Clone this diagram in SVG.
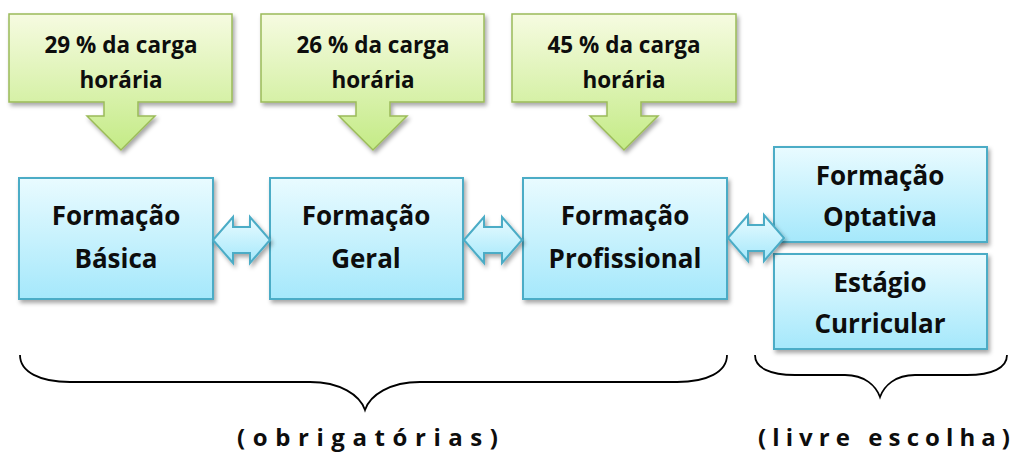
<svg xmlns="http://www.w3.org/2000/svg" width="1016" height="452" viewBox="0 0 1016 452">
<defs>
<linearGradient id="gBlue" x1="0" y1="0" x2="0" y2="1">
<stop offset="0" stop-color="#e9fbff"/>
<stop offset="1" stop-color="#a5e8fb"/>
</linearGradient>
<linearGradient id="gGreen" x1="0" y1="0" x2="0" y2="1">
<stop offset="0" stop-color="#f6fbe1"/>
<stop offset="1" stop-color="#c4eb86"/>
</linearGradient>
<filter id="sh" x="-10%" y="-10%" width="130%" height="130%">
<feDropShadow dx="2" dy="3" stdDeviation="2" flood-color="#000" flood-opacity="0.35"/>
</filter>
</defs>
<style>
.box{fill:url(#gBlue);stroke:#4bacc6;stroke-width:2;filter:url(#sh)}
.call{fill:url(#gGreen);stroke:#9bbb59;stroke-width:1.5;filter:url(#sh)}
.dbl{fill:url(#gBlue);stroke:#4bacc6;stroke-width:2;stroke-linejoin:miter;filter:url(#sh)}
.t{font-family:"Open Sans","Liberation Sans",sans-serif;font-weight:bold;fill:#0d0d0d;text-anchor:middle}
.big{font-size:26px}
.sm{font-size:22.5px}
.lbl{font-size:24px;text-anchor:start}
.brace{fill:none;stroke:#000;stroke-width:1.8}
</style>
<rect width="1016" height="452" fill="#fff"/>

<g id="callout1">
<path class="call" d="M9,14 H232 V102 H138 V116 H155 L121,150 L87,116 H104 V102 H9 Z"/>
<text class="t sm" x="121" y="53">29 % da carga</text>
<text class="t sm" x="121" y="88">horária</text>
</g>
<g id="callout2">
<path class="call" d="M261,14 H484 V102 H390 V116 H407 L373,150 L339,116 H356 V102 H261 Z"/>
<text class="t sm" x="373" y="53">26 % da carga</text>
<text class="t sm" x="373" y="88">horária</text>
</g>
<g id="callout3">
<path class="call" d="M512,14 H736 V102 H641 V116 H658 L624,150 L590,116 H607 V102 H512 Z"/>
<text class="t sm" x="624" y="53">45 % da carga</text>
<text class="t sm" x="624" y="88">horária</text>
</g>

<g id="basica">
<rect class="box" x="19" y="178" width="194" height="121"/>
<text class="t big" x="116" y="225">Formação</text>
<text class="t big" x="116" y="268">Básica</text>
</g>
<g id="geral">
<rect class="box" x="270" y="178" width="193" height="121"/>
<text class="t big" x="366" y="225">Formação</text>
<text class="t big" x="366" y="268">Geral</text>
</g>
<g id="profissional">
<rect class="box" x="523" y="178" width="204" height="121"/>
<text class="t big" x="625" y="225">Formação</text>
<text class="t big" x="625" y="268">Profissional</text>
</g>
<g id="optativa">
<rect class="box" x="774" y="147" width="213" height="95"/>
<text class="t big" x="880" y="185">Formação</text>
<text class="t big" x="880" y="226">Optativa</text>
</g>
<g id="estagio">
<rect class="box" x="774" y="254" width="213" height="95"/>
<text class="t big" x="880" y="292">Estágio</text>
<text class="t big" x="880" y="333">Curricular</text>
</g>

<g id="connectors">
<path class="dbl" d="M213,240 L233,217 V227 H250 V217 L270,240 L250,263 V253 H233 V263 Z"/>
<path class="dbl" d="M464,240 L484,217 V227 H502 V217 L522,240 L502,263 V253 H484 V263 Z"/>
<path class="dbl" d="M728,238 L748,215 V225 H764 V215 L784,238 L764,261 V251 H748 V261 Z"/>
</g>

<g id="braces">
<path class="brace" d="M20,355 C20,372 40,382 70,382 H310 C340,382 360,395 365,410 C370,395 390,382 420,382 H677 C707,382 727,372 727,355"/>
<path class="brace" d="M755,355 C755,368 770,375 795,375 H845 C865,375 876,386 880,397 C884,386 895,375 915,375 H967 C992,375 1007,368 1007,355"/>
</g>

<g id="labels">
<text class="t lbl" x="237" y="446" textLength="261" lengthAdjust="spacing">(obrigatórias)</text>
<text class="t lbl" x="758" y="446" textLength="252" lengthAdjust="spacing">(livre escolha)</text>
</g>
</svg>
